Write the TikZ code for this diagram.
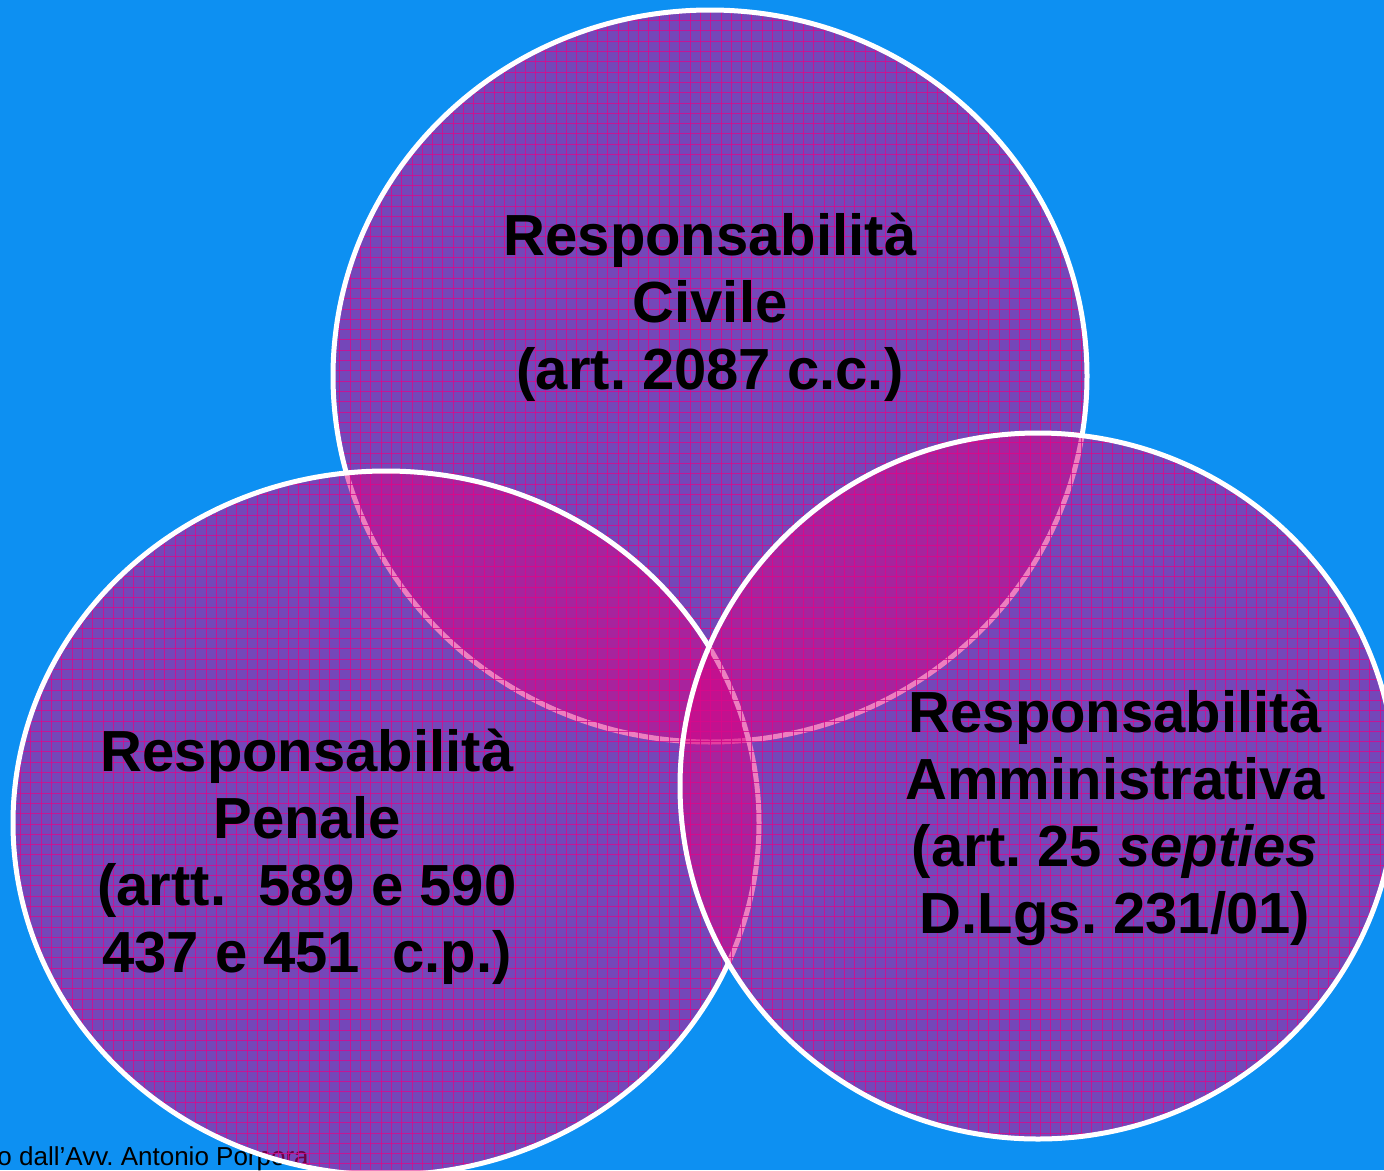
\documentclass[tikz,border=0pt]{standalone}
\usepackage{fontspec}
\setmainfont{Liberation Sans}
\frenchspacing
\definecolor{sky}{RGB}{13,144,242}
\definecolor{fuchsia}{RGB}{220,0,130}
\definecolor{gridline}{RGB}{215,10,140}
\providecommand*{\pgfmathsetnewmacro}[2]{%
    \newcommand*{#1}{}% Error if already defined
    \pgfmathsetmacro{#1}{#2}%
}
\tikzset{
  resp/.style = {align=center, anchor=base, inner sep=0pt,
                 font=\bfseries\fontsize{58}{67}\selectfont}
}

\begin{document}
\begin{tikzpicture}[x=1pt, y=-1pt, line width = 5pt]

\useasboundingbox[clip] (0,0) rectangle (1384,1170);
\fill[sky] (0,0) rectangle (1384,1170);

\pgfmathsetnewmacro{\gap}{10.3}

\node (footer) [anchor=base west, inner sep=0pt, font=\fontsize{26}{30}\selectfont]
    at (-5,1165) {o dall’Avv. Antonio Porpora};

\foreach \NAME/\CX/\CY/\RX/\RY in {
                        civ/ 710/376/377/366,
                        pen/ 386/823/373/352,
                        amm/1038/786/358/353}{
    \coordinate (\NAME) at (\CX,\CY);
    \begin{scope}
        \clip (\NAME) ellipse [x radius=\RX, y radius=\RY];
        \fill[fuchsia, opacity=0.5] (\NAME) ellipse [x radius=\RX, y radius=\RY];
        \foreach \X in {0,\gap,...,1384}
            \draw[gridline, opacity=0.8, line width=1pt] (\X,0) -- (\X,1170);
        \foreach \Y in {0,\gap,...,1170}
            \draw[gridline, opacity=0.8, line width=1pt] (0,\Y) -- (1384,\Y);
    \end{scope}
    \draw[white] (\NAME) ellipse [x radius=\RX, y radius=\RY];
    };

% anchor "base" sits on the last line
\node (civile) [resp] at (710,389) {Responsabilità\\Civile\\(art. 2087 c.c.)};
\node (penale) [resp] at (307,972) {Responsabilità\\Penale\\(artt.~ 589 e 590\\437 e 451~ c.p.)};
\node (amministrativa) [resp] at (1115,933)
    {Responsabilità\\Amministrativa\\(art. 25 \textit{septies}\\D.Lgs. 231/01)};

\end{tikzpicture}
\end{document}
